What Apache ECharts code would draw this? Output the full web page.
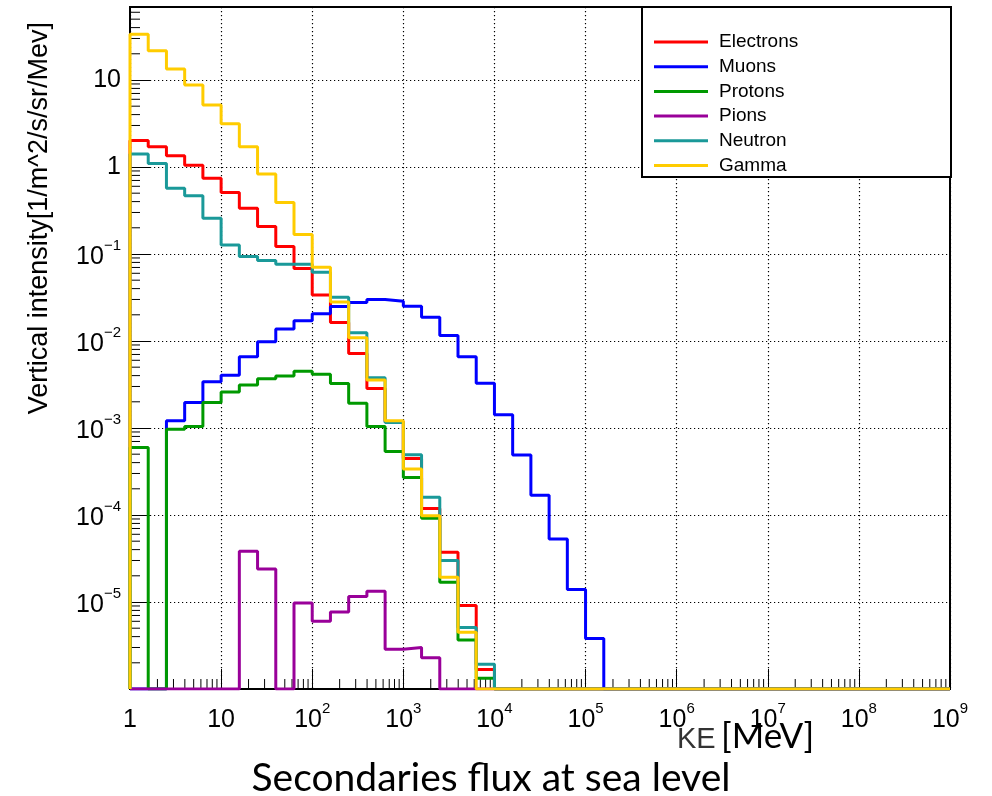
<!DOCTYPE html>
<html>
<head>
<meta charset="utf-8">
<script src="https://cdn.jsdelivr.net/npm/echarts@6/dist/echarts.min.js"></script>
<style>
  html, body { margin: 0; padding: 0; background: #fff; }
  #chart { width: 992px; height: 796px; }
</style>
</head>
<body>
<div id="chart"></div>
<script>
// histogram: 5 log bins per decade, KE from 1 to 1e9 MeV
const binsPerDecade = 5
const decades = 9
const xMin = 1
const xMax = 1e9
const yMin = 1e-6
const yMax = 69

// bin contents, left to right; missing trailing bins are empty
const electrons = [2.01, 1.71, 1.35, 1.05, 0.743, 0.508, 0.336, 0.207, 0.122, 0.068, 0.0337, 0.0163, 0.0072, 0.00284, 0.00119, 4.47e-4, 1.19e-4, 3.73e-5, 9.1e-6, 1.68e-6]
const muons = [0, 0, 1.21e-3, 1.96e-3, 3.41e-3, 4.04e-3, 6.6e-3, 9.8e-3, 0.0137, 0.0171, 0.0206, 0.0249, 0.0277, 0.030, 0.0287, 0.0251, 0.0187, 0.0116, 6.6e-3, 3.27e-3, 1.42e-3, 4.88e-4, 1.69e-4, 5.3e-5, 1.39e-5, 3.8e-6]
const protons = [5.97e-4, 0, 9.7e-4, 1.04e-3, 1.96e-3, 2.6e-3, 3.12e-3, 3.69e-3, 3.96e-3, 4.49e-3, 4.14e-3, 3.24e-3, 1.92e-3, 1.04e-3, 5.37e-4, 2.7e-4, 9.2e-5, 1.69e-5, 3.66e-6, 1.33e-6]
const pions = [0, 0, 0, 0, 0, 0, 3.83e-5, 2.4e-5, 0, 9.75e-6, 6.0e-6, 7.66e-6, 1.16e-5, 1.33e-5, 2.86e-6, 2.99e-6, 2.29e-6]
const neutron = [1.41, 1.10, 0.570, 0.466, 0.258, 0.127, 0.0935, 0.0841, 0.076, 0.076, 0.0618, 0.0319, 0.0124, 3.79e-3, 1.16e-3, 4.92e-4, 1.6e-4, 2.99e-5, 5.1e-6, 1.92e-6]
const gamma = [33.5, 21.7, 13.4, 8.77, 5.17, 3.13, 1.71, 0.832, 0.39, 0.168, 0.0705, 0.028, 0.0109, 3.56e-3, 1.21e-3, 3.37e-4, 9.8e-5, 1.93e-5, 4.5e-6]

const names = ['Electrons', 'Muons', 'Protons', 'Pions', 'Neutron', 'Gamma']
const colors = ['#ff0000', '#0000ff', '#009900', '#990099', '#1a9999', '#ffcc00']
const minorMultipliers = [2, 3, 4, 5, 6, 7, 8, 9]

const font = '"Liberation Sans", Arial, sans-serif'
const nBins = binsPerDecade * decades
const binEdges = Array.from({ length: nBins + 1 }, (_, i) => Math.pow(10, i / binsPerDecade))

// outline of a ROOT-style histogram, empty bins sit on the axis floor
const toSteps = (values) => {
  const pts = [[binEdges[0], yMin]]
  for (let i = 0; i < nBins; i++) {
    const v = values[i] > 0 ? values[i] : yMin
    pts.push([binEdges[i], v])
  }
  pts.push([binEdges[nBins], yMin])
  return pts
}

const expLabel = (v, plainKey, supKey, skipMin) => {
  const k = Math.round(Math.log10(v))
  if (Math.abs(Math.log10(v) - k) > 1e-6) return ''
  if (skipMin && v <= skipMin * 1.001) return ''
  if (k === 0) return '{' + plainKey + '|1}'
  if (k === 1) return '{' + plainKey + '|10}'
  return '{' + supKey + '|10}{s|' + (k < 0 ? '\u2212' + (-k) : k) + '}'
}

const xMinorTicks = []
for (let k = 0; k < decades; k++) {
  minorMultipliers.forEach((m) => xMinorTicks.push([m * Math.pow(10, k), yMin]))
}
const yMinorTicks = []
for (let k = -6; k <= 1; k++) {
  minorMultipliers.forEach((m) => {
    const v = m * Math.pow(10, k)
    if (v < yMax) yMinorTicks.push([xMin, v])
  })
}

const chart = echarts.init(document.getElementById('chart'))
const allSeries = [electrons, muons, protons, pions, neutron, gamma]
const gridLine = { show: true, lineStyle: { color: '#000', width: 1.2, type: [1.2, 2.8] } }

const option = {
  animation: false,
  backgroundColor: '#fff',
  grid: {
    left: 130, right: 42, top: 7, bottom: 107,
    show: true, borderColor: '#000', borderWidth: 2, backgroundColor: 'transparent'
  },
  legend: {
    data: names.map((n) => ({ name: n, icon: 'rect' })),
    orient: 'vertical',
    left: 654,
    top: 32,
    padding: 0,
    itemWidth: 54,
    itemHeight: 3,
    itemGap: 4.7,
    selectedMode: false,
    textStyle: { fontFamily: font, fontSize: 19, lineHeight: 20, color: '#000', padding: [0, 0, 0, 6] }
  },
  xAxis: {
    type: 'log',
    min: xMin,
    max: xMax,
    splitNumber: 10,
    axisLine: { show: true, lineStyle: { color: '#000', width: 2 } },
    axisTick: { show: true, inside: true, length: 20, lineStyle: { color: '#000', width: 1 } },
    splitLine: gridLine,
    axisLabel: {
      margin: 12,
      formatter: (v) => expLabel(v, 'b', 'b'),
      rich: {
        b: { fontFamily: font, fontSize: 25, lineHeight: 32, verticalAlign: 'bottom', color: '#000' },
        s: { fontFamily: font, fontSize: 15, lineHeight: 15, verticalAlign: 'top', color: '#000' }
      }
    }
  },
  yAxis: {
    type: 'log',
    min: yMin,
    max: yMax,
    splitNumber: 10,
    axisLine: { show: true, lineStyle: { color: '#000', width: 2 } },
    axisTick: { show: true, inside: true, length: 20, lineStyle: { color: '#000', width: 1 } },
    splitLine: gridLine,
    axisLabel: {
      margin: 9,
      formatter: (v) => expLabel(v, 'p', 'b', yMin),
      rich: {
        p: { fontFamily: font, fontSize: 25, lineHeight: 25, color: '#000' },
        b: { fontFamily: font, fontSize: 25, lineHeight: 32, verticalAlign: 'bottom', color: '#000' },
        s: { fontFamily: font, fontSize: 15, lineHeight: 15, verticalAlign: 'top', color: '#000' }
      }
    }
  },
  graphic: [
    {
      type: 'rect', z: 3,
      shape: { x: 642, y: 7, width: 309, height: 170 },
      style: { fill: '#fff', stroke: '#000', lineWidth: 2 }
    },
    {
      type: 'text', x: 40, y: 22, rotation: Math.PI / 2,
      style: { text: 'Vertical intensity[1/m^2/s/sr/Mev]', font: '27px ' + font, fill: '#000', align: 'right', verticalAlign: 'middle' }
    },
    {
      type: 'text', x: 677, y: 740,
      style: { text: 'KE', font: '29px ' + font, fill: '#333', align: 'left', verticalAlign: 'middle' }
    },
    {
      type: 'text', x: 721, y: 737,
      style: { text: '[MeV]', font: '35px Lato, sans-serif', fill: '#000', align: 'left', verticalAlign: 'middle' }
    },
    {
      type: 'text', x: 491, y: 778,
      style: { text: 'Secondaries flux at sea level', font: '39px Lato, sans-serif', fill: '#000', align: 'center', verticalAlign: 'middle' }
    }
  ],
  series: [
    ...allSeries.map((values, i) => ({
      name: names[i],
      type: 'line',
      step: 'end',
      symbol: 'none',
      clip: true,
      z: 3,
      color: colors[i],
      lineStyle: { color: colors[i], width: 3 },
      data: toSteps(values)
    })),
    {
      type: 'custom',
      silent: true,
      z: 1,
      data: xMinorTicks,
      renderItem: (params, api) => {
        const p = api.coord([api.value(0), api.value(1)])
        return { type: 'line', shape: { x1: p[0], y1: p[1], x2: p[0], y2: p[1] - 10 }, style: { stroke: '#000', lineWidth: 1 } }
      }
    },
    {
      type: 'custom',
      silent: true,
      z: 1,
      data: yMinorTicks,
      renderItem: (params, api) => {
        const p = api.coord([api.value(0), api.value(1)])
        return { type: 'line', shape: { x1: p[0], y1: p[1], x2: p[0] + 10, y2: p[1] }, style: { stroke: '#000', lineWidth: 1 } }
      }
    }
  ]
}

chart.setOption(option)
</script>
</body>
</html>
